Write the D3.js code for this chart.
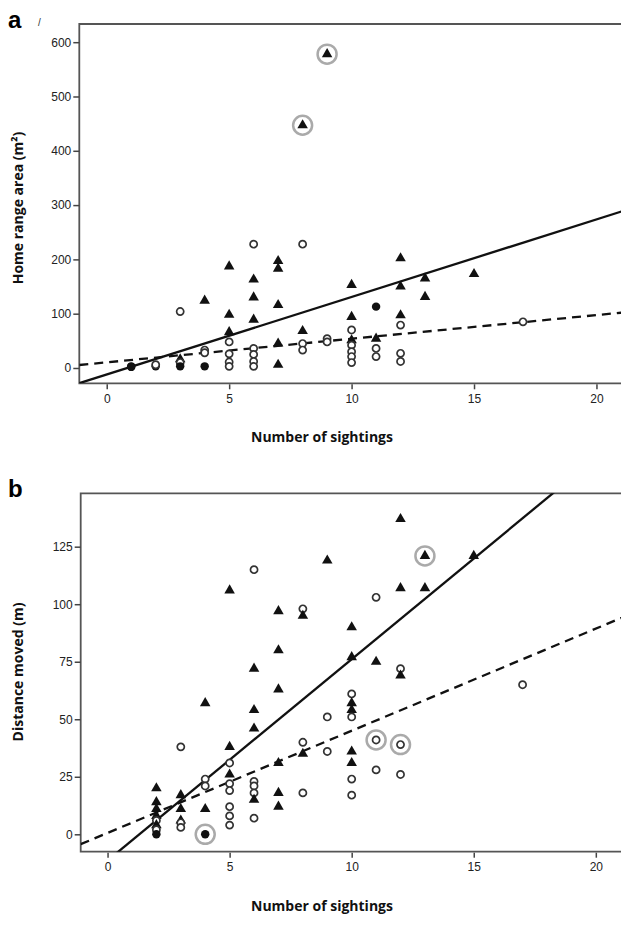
<!DOCTYPE html>
<meta charset="utf-8">
<style>
  body { margin: 0; background: #fff; }
  .axis { color: #333; }
  .tick text { font-family: "Liberation Sans Narrow", "Liberation Sans", Arial, sans-serif; font-size: 12px; fill: #222; }
  .tick line { stroke: #444; stroke-width: 1.5; }
  .axis path { display: none; }
  .title { font-family: "Open Sans", sans-serif; font-weight: bold; font-size: 14px; fill: #111; }
  .panel { font-family: "Liberation Sans", Arial, sans-serif; font-weight: bold; font-size: 24px; fill: #000; }
</style>
<body>
<svg width="621" height="927"></svg>
<script src="https://cdn.jsdelivr.net/npm/d3@7"></script>
<script>
// Panel a: home range area (m²) vs number of sightings
// kind: T = filled triangle, O = open circle, F = filled circle; ring = highlighted
const areaX    = [1,1,2,2,3,3,3,3,4,4,4,4,5,5,5,5,5,5,5,6,6,6,6,6,6,6,6,7,7,7,7,7,8,8,8,8,8,9,9,9,10,10,10,10,10,10,10,10,11,11,11,11,12,12,12,12,12,12,13,13,15,17];
const areaY    = [3,2,3,6,104,16,10,3,124,33,28,3,187,98,66,48,26,11,3,228,163,130,89,36,25,12,3,197,183,116,45,6,447,228,68,45,33,578,54,48,153,94,70,51,42,30,21,10,113,54,36,21,202,150,97,79,27,12,165,131,173,85];
const areaKind = ["F","F","F","O","O","T","O","F","T","O","O","F","T","T","T","O","O","O","O","O","T","T","T","O","O","O","O","T","T","T","T","T","T","O","T","O","O","T","O","O","T","T","O","T","O","O","O","O","F","T","O","O","T","T","T","O","O","O","T","T","T","O"];
const areaRing = [[8,447],[9,578]];
const areaFitSolid  = [-12, 14.28];   // intercept, slope
const areaFitDashed = [10.4, 4.35];

// Panel b: distance moved (m) vs number of sightings
const distX    = [2,2,2,2,2,2,2,2,3,3,3,3,3,3,4,4,4,4,4,5,5,5,5,5,5,5,5,5,6,6,6,6,6,6,6,6,6,7,7,7,7,7,7,8,8,8,8,8,9,9,9,10,10,10,10,10,10,10,10,10,10,11,11,11,11,12,12,12,12,12,12,13,13,15,17];
const distY    = [20,14,11,8,6,4,2,0,17,11,38,6,5,3,57,24,21,11,0,106,38,31,26,22,19,12,8,4,115,72,54,46,23,21,18,15,7,97,80,63,31,18,12,98,95,40,35,18,119,51,36,90,77,61,57,54,51,36,31,24,17,103,75,41,28,137,107,72,69,39,26,121,107,121,65];
const distKind = ["T","T","T","T","O","T","O","F","T","T","O","T","O","O","T","O","O","T","F","T","T","O","T","O","O","O","O","O","O","T","T","T","O","O","O","T","O","T","T","T","T","T","T","O","T","O","T","O","T","O","O","T","T","O","T","T","O","T","T","O","O","O","T","O","O","T","T","O","T","O","O","T","T","T","O"];
const distRing = [[4,0],[11,41],[12,39],[13,121]];
const distFitSolid  = [-11.4, 8.75];
const distFitDashed = [0.6, 4.44];

const xTicks = [0, 5, 10, 15, 20];
const areaTicks = [0, 100, 200, 300, 400, 500, 600];
const distTicks = [0, 25, 50, 75, 100, 125];

const svg = d3.select("svg");

function panel(opt) {
  const x = d3.scaleLinear().domain(opt.xDomain).range([opt.left, 630]);
  const y = d3.scaleLinear().domain(opt.yDomain).range([opt.bottom, opt.top]);
  const g = svg.append("g");

  g.append("clipPath").attr("id", opt.id)
    .append("rect")
      .attr("x", opt.left).attr("y", opt.top)
      .attr("width", 630 - opt.left).attr("height", opt.bottom - opt.top);

  // frame (right side runs off the page)
  g.append("path")
      .attr("d", `M640,${opt.top}H${opt.left}V${opt.bottom}H640`)
      .attr("fill", "none").attr("stroke", "#555").attr("stroke-width", 1.8);

  g.append("g")
      .attr("class", "axis")
      .attr("transform", `translate(0,${opt.bottom})`)
      .call(d3.axisBottom(x).tickValues(xTicks).tickSize(6).tickPadding(5).tickSizeOuter(0))
      .call(s => s.selectAll(".tick line").attr("y1", 1));

  g.append("g")
      .attr("class", "axis")
      .attr("transform", `translate(${opt.left},0)`)
      .call(d3.axisLeft(y).tickValues(opt.yTicks).tickSize(6).tickPadding(2).tickSizeOuter(0));

  // fit lines
  const fits = g.append("g").attr("clip-path", `url(#${opt.id})`);
  [[opt.fitSolid, null], [opt.fitDashed, "9,6"]].forEach(([f, dash]) => {
    const xs = opt.xDomain;
    fits.append("line")
        .attr("x1", x(xs[0])).attr("y1", y(f[0] + f[1] * xs[0]))
        .attr("x2", x(xs[1])).attr("y2", y(f[0] + f[1] * xs[1]))
        .attr("stroke", "#111").attr("stroke-width", 2.3)
        .attr("stroke-dasharray", dash);
  });

  // highlight rings
  g.selectAll(".ring")
    .data(opt.rings)
    .enter().append("circle")
      .attr("cx", d => x(d[0])).attr("cy", d => y(d[1]))
      .attr("r", 9.5)
      .attr("fill", "#fff").attr("stroke", "#aaa").attr("stroke-width", 2.5);

  const pts = opt.xs.map((v, i) => ({x: v, y: opt.ys[i], k: opt.kinds[i]}));
  const tri = d3.symbol().type(d3.symbolTriangle).size(48);

  g.selectAll(".pt")
    .data(pts)
    .enter().append("path")
      .attr("transform", d => `translate(${x(d.x)},${y(d.y)})`)
      .attr("d", d => d.k === "T" ? tri() : d3.symbol().type(d3.symbolCircle).size(d.k === "F" ? 56 : 40)())
      .attr("fill", d => d.k === "O" ? "#fff" : "#111")
      .attr("stroke", d => d.k === "O" ? "#333" : "none")
      .attr("stroke-width", 1.7);

  g.append("text")
      .attr("class", "title")
      .attr("x", 322).attr("y", opt.bottom + 59)
      .attr("text-anchor", "middle")
      .text("Number of sightings");

  g.append("text")
      .attr("class", "title")
      .attr("transform", `translate(23,${opt.yTitleAt}) rotate(-90)`)
      .attr("text-anchor", "middle")
      .text(opt.yTitle);

  g.append("text")
      .attr("class", "panel")
      .attr("x", 8).attr("y", opt.top + opt.labelDy)
      .text(opt.label);
}

panel({
  id: "clipA", label: "a", labelDy: 4,
  left: 79.3, top: 24, bottom: 383.3,
  xDomain: [-1.12, 21.37], yDomain: [-28.2, 633.5],
  yTicks: areaTicks, yTitle: "Home range area (m²)", yTitleAt: 208,
  xs: areaX, ys: areaY, kinds: areaKind, rings: areaRing,
  fitSolid: areaFitSolid, fitDashed: areaFitDashed
});

panel({
  id: "clipB", label: "b", labelDy: 4,
  left: 80.7, top: 493.3, bottom: 851.7,
  xDomain: [-1.1, 21.4], yDomain: [-7.56, 148.2],
  yTicks: distTicks, yTitle: "Distance moved (m)", yTitleAt: 672,
  xs: distX, ys: distY, kinds: distKind, rings: distRing,
  fitSolid: distFitSolid, fitDashed: distFitDashed
});

// small stray mark after the "a"
svg.append("text")
    .attr("x", 38).attr("y", 26)
    .attr("font-family", "Liberation Sans, Arial, sans-serif")
    .attr("font-size", 10).attr("fill", "#333")
    .text("/");
</script>
</body>
